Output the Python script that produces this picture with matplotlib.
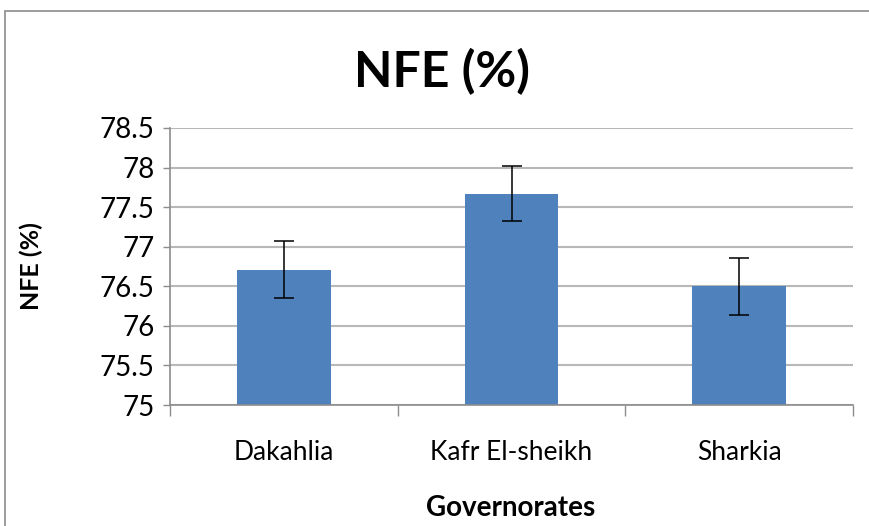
'''
NFE (%) by governorate, bar chart with error bars
'''
import matplotlib.pyplot as plt
from matplotlib.patches import Rectangle
import numpy as np

# data
governorates = ['Dakahlia', 'Kafr El-sheikh', 'Sharkia']
nfe_mean = [76.71, 77.67, 76.50]
nfe_err = [0.36, 0.345, 0.36]
y_ticks = [75, 75.5, 76, 76.5, 77, 77.5, 78, 78.5]
y_tick_labels = ['75', '75.5', '76', '76.5', '77', '77.5', '78', '78.5']

plt.rcParams['font.family'] = ['Lato', 'DejaVu Sans']

W, H = 869, 526
fig = plt.figure(figsize=(W / 100, H / 100), dpi=100)
ax = fig.add_axes([170 / W, 1 - 405 / H, (853 - 170) / W, (405 - 128) / H])

# outer chart border (cut off at right and bottom like the reference)
fig.patches.append(Rectangle((5 / W, -0.1), 1.2, 1 - 11 / H + 0.1,
                             transform=fig.transFigure, fill=False,
                             edgecolor='#8c8c8c', linewidth=1.2))

x = np.arange(len(governorates))
ax.bar(x, np.array(nfe_mean) - 75, bottom=75, width=0.41, color='#4F81BD', zorder=2)
ax.errorbar(x, nfe_mean, yerr=nfe_err, fmt='none', ecolor='black',
            elinewidth=1.1, capsize=7, capthick=1.1, zorder=3)

ax.set_xlim(-0.5, len(governorates) - 0.5)
ax.set_ylim(75, 78.5)
ax.set_yticks(y_ticks)
ax.set_yticklabels(y_tick_labels, fontsize=20)
ax.yaxis.grid(True, color='#b8b8b8', linewidth=1.5, zorder=0)
ax.set_axisbelow(True)

# category labels centered, tick marks at boundaries
ax.set_xticks(x)
ax.set_xticklabels(governorates, fontsize=19)
ax.tick_params(axis='x', length=0, pad=25)
ax.set_xticks(np.arange(len(governorates) + 1) - 0.5, minor=True)
ax.tick_params(axis='x', which='minor', length=8, color='#8c8c8c', width=1)
ax.tick_params(axis='y', length=5, color='#8c8c8c', width=1, pad=6)

for side in ['top', 'right']:
    ax.spines[side].set_visible(False)
for side in ['left', 'bottom']:
    ax.spines[side].set_color('#8c8c8c')
    ax.spines[side].set_linewidth(1.2)

fig.text(442 / W, 1 - 72 / H, 'NFE (%)', fontsize=36, fontweight='bold',
         ha='center', va='center')
fig.text(31 / W, 1 - 266 / H, 'NFE (%)', fontsize=18, fontweight='bold',
         rotation=90, ha='center', va='center')
fig.text(511 / W, 1 - 508 / H, 'Governorates', fontsize=20, fontweight='bold',
         ha='center', va='center')

fig.savefig('out.png', dpi=100)
